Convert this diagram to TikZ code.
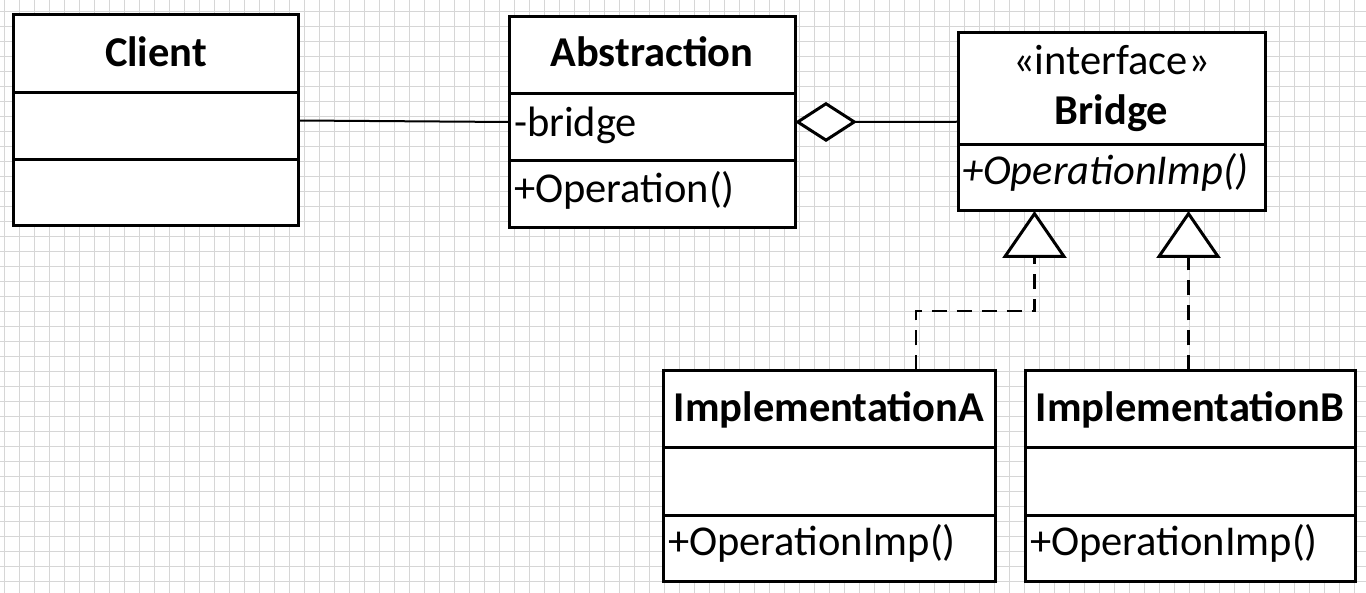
\documentclass[tikz,border=0pt]{standalone}
\usepackage{fontspec}
\setmainfont{Carlito}
\usetikzlibrary{calc,arrows.meta}
\definecolor{gridc}{RGB}{214,214,214}
\tikzset{
  boxline/.style={line width=3pt, line cap=rect},
  classbox/.style={draw, fill=white, line width=3pt, rectangle, inner sep=0pt, outer sep=0pt, anchor=north west},
  txt/.style={inner sep=0pt, outer sep=0pt, font=\fontsize{42.5}{50}\selectfont},
  btxt/.style={txt, font=\fontsize{42.5}{50}\selectfont\bfseries, anchor=base},
  ltxt/.style={txt, anchor=base west},
  assoc/.style={line width=2pt},
  aggr/.style={line width=2pt, -{Diamond[fill=white, length=62pt, width=40pt, line width=3pt, sep=0pt]}},
  realize/.style={line width=2.5pt, dash pattern=on 15pt off 10pt, -{Triangle[fill=white, length=47pt, width=64pt, line width=3pt]}},
}
\begin{document}
\begin{tikzpicture}[x=1pt, y=-1pt]
\useasboundingbox (0,0) rectangle (1366,593);
\fill[white] (0,0) rectangle (1366,593);
% grid
\foreach \i in {0,...,90} {\draw[gridc, line width=1pt] (4.3+15*\i,0) -- (4.3+15*\i,593);}
\foreach \j in {0,...,38} {\draw[gridc, line width=1pt] (0,11.5+15*\j) -- (1366,11.5+15*\j);}

% Client
\node[classbox, minimum width=285pt, minimum height=211pt] (client) at (13.5,15) {};
\draw[boxline] ($(client.north west)+(0,77.5)$) -- ($(client.north east)+(0,77.5)$);
\draw[boxline] ($(client.north west)+(0,144.5)$) -- ($(client.north east)+(0,144.5)$);
\node[btxt] (clientname) at (156,66.5) {Client};

% Abstraction
\node[classbox, minimum width=285.5pt, minimum height=211pt] (abs) at (509.5,16.5) {};
\draw[boxline] ($(abs.north west)+(0,77.5)$) -- ($(abs.north east)+(0,77.5)$);
\draw[boxline] ($(abs.north west)+(0,144.5)$) -- ($(abs.north east)+(0,144.5)$);
\node[btxt] (absname) at (652,66.5) {Abstraction};
\node[ltxt] (absattr) at (514,136.5) {-bridge};
\node[ltxt] (absop) at (514,203) {+Operation()};

% Bridge
\node[classbox, minimum width=306.5pt, minimum height=178.5pt] (bridge) at (958.5,32.5) {};
\draw[boxline] ($(bridge.north west)+(0,112.5)$) -- ($(bridge.north east)+(0,112.5)$);
\node[txt, anchor=base] (stereo) at (1111.5,75) {«interface»};
\node[btxt] (bridgename) at (1111.5,125) {Bridge};
\node[ltxt, font=\fontsize{42.5}{50}\selectfont\itshape] (bridgeop) at (962,185) {+OperationImp()};

% ImplementationA
\node[classbox, minimum width=331.5pt, minimum height=211pt] (impla) at (663.5,370.5) {};
\draw[boxline] ($(impla.north west)+(0,77)$) -- ($(impla.north east)+(0,77)$);
\draw[boxline] ($(impla.north west)+(0,144.5)$) -- ($(impla.north east)+(0,144.5)$);
\node[btxt] (implaname) at (829,421.5) {ImplementationA};
\node[ltxt] (implaop) at (668,555) {+OperationImp()};

% ImplementationB
\node[classbox, minimum width=329.5pt, minimum height=211pt] (implb) at (1025.5,370.5) {};
\draw[boxline] ($(implb.north west)+(0,77)$) -- ($(implb.north east)+(0,77)$);
\draw[boxline] ($(implb.north west)+(0,144.5)$) -- ($(implb.north east)+(0,144.5)$);
\node[btxt] (implbname) at (1190,421.5) {ImplementationB};
\node[ltxt] (implbop) at (1030,555) {+OperationImp()};

% connectors
\draw[assoc] (client.east) -- (abs.west);
\draw[aggr] (bridge.west) -- (abs.east);
\coordinate (ta) at ($(bridge.south west)+(76,0)$);
\coordinate (tb) at ($(bridge.south west)+(230,0)$);
\coordinate (sa) at ($(impla.north west)+(252.5,0)$);
\draw[realize] (sa) |- ($(ta)+(0,100)$) -- (ta);
\draw[realize] (tb |- implb.north) -- (tb);
\end{tikzpicture}
\end{document}
